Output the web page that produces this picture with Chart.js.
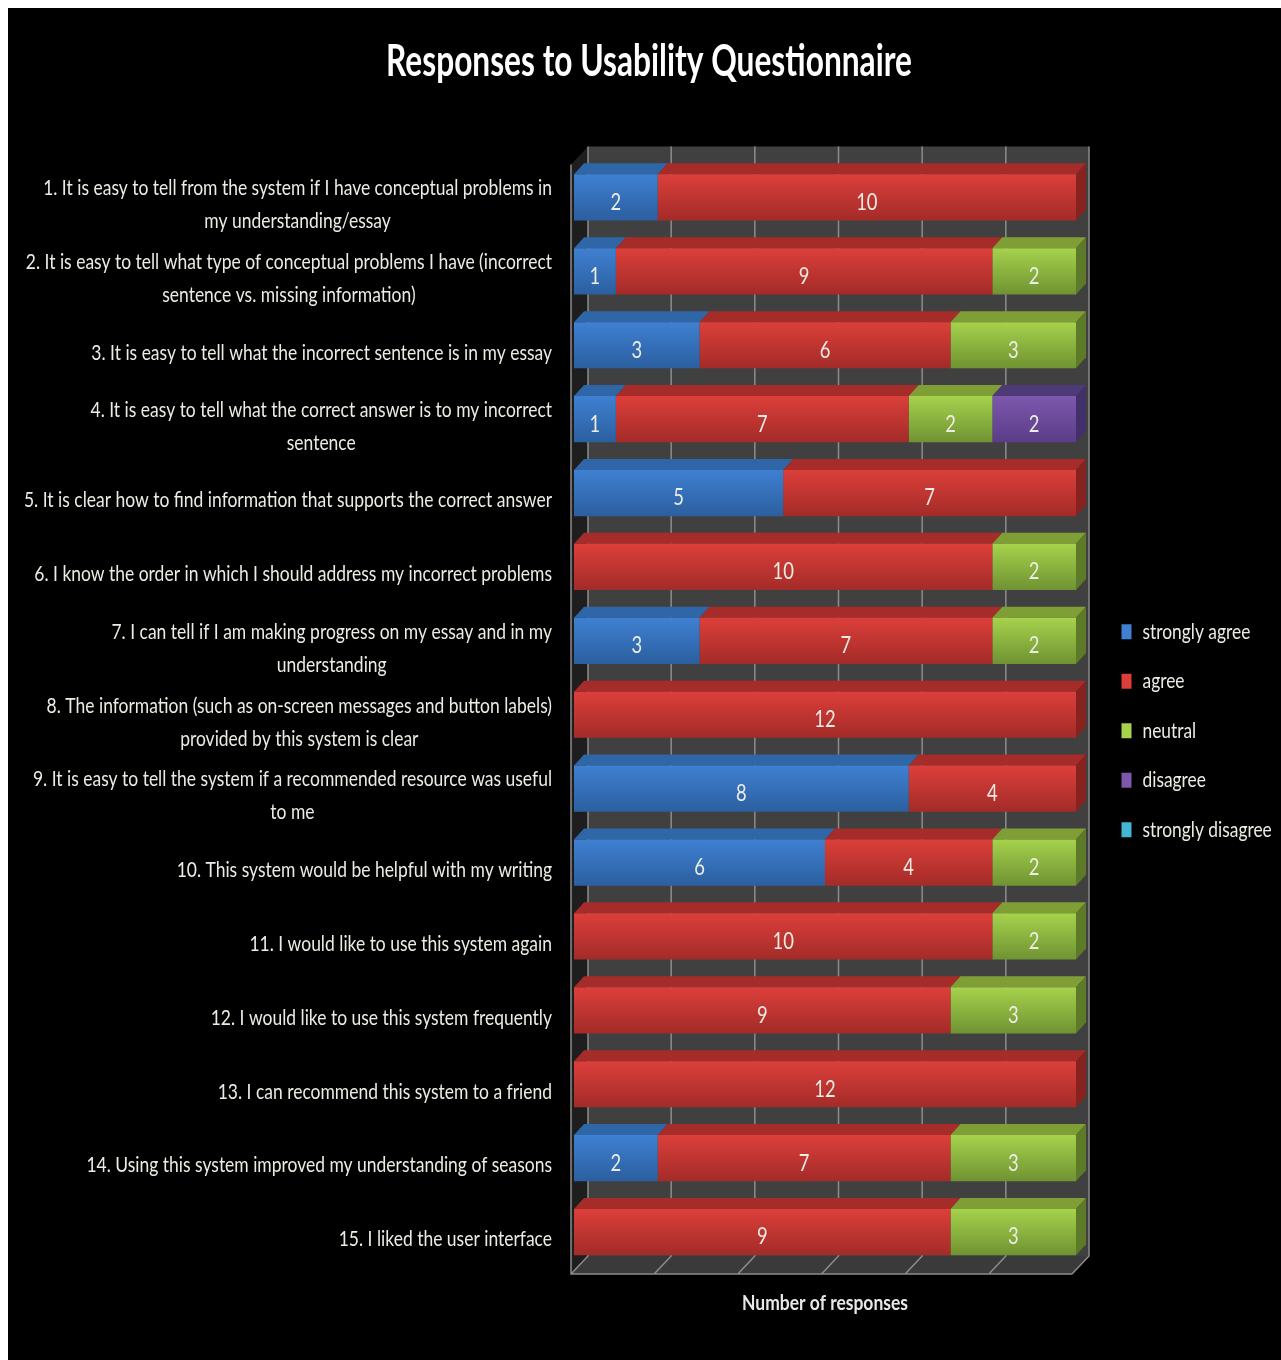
<!DOCTYPE html>
<html><head><meta charset="utf-8">
<style>
html,body{margin:0;padding:0;background:#fff;overflow:hidden;width:1281px;height:1360px}
#c{position:absolute;left:8px;top:8px;background:#000;display:block;filter:blur(0.5px)}
</style>
<script src="https://cdn.jsdelivr.net/npm/chart.js@4/dist/chart.umd.js"></script>
</head><body>
<canvas id="c" width="1273" height="1352"></canvas>
<script>
const questions = [
 ["1. It is easy to tell from the system if I have conceptual problems in","my understanding/essay"],
 ["2. It is easy to tell what type of conceptual problems I have (incorrect","sentence vs. missing information)"],
 "3. It is easy to tell what the incorrect sentence is in my essay",
 ["4. It is easy to tell what the correct answer is to my incorrect","sentence"],
 "5. It is clear how to find information that supports the correct answer",
 "6. I know the order in which I should address my incorrect problems",
 ["7. I can tell if I am making progress on my essay and in my","understanding"],
 ["8. The information (such as on-screen messages and button labels)","provided by this system is clear"],
 ["9. It is easy to tell the system if a recommended resource was useful","to me"],
 "10. This system would be helpful with my writing",
 "11. I would like to use this system again",
 "12. I would like to use this system frequently",
 "13. I can recommend this system to a friend",
 "14. Using this system improved my understanding of seasons",
 "15. I liked the user interface"
];
const stronglyAgree    = [2,1,3,1,5,0,3,0,8,6,0,0,0,2,0];
const agree            = [10,9,6,7,7,10,7,12,4,4,10,9,12,7,9];
const neutral          = [0,2,3,2,0,2,2,0,0,2,2,3,0,3,3];
const disagree         = [0,0,0,2,0,0,0,0,0,0,0,0,0,0,0];
const stronglyDisagree = [0,0,0,0,0,0,0,0,0,0,0,0,0,0,0];
const seriesNames = ["strongly agree","agree","neutral","disagree","strongly disagree"];
const xTickStep = 2;
const xMax = 12;

const FONT = "Lato,'Open Sans',sans-serif";
const TEXT = "#ecece4";
// horizontal squeeze by font size: the original font is a tall, narrow one
const SQUEEZE = {44:0.72,21:0.832,22:0.79,23:0.8};
// [front top, front bottom, top face, side face]
const palette = [
 ["#3f80d2","#2b5f9f","#2f66a8","#24507f"],
 ["#dc3f3a","#a32b28","#a62c29","#87231f"],
 ["#a6d24c","#6f9332","#7f9f36","#5c7a27"],
 ["#7d58ad","#5a3c88","#4f3a78","#42306a"],
 ["#45b6d2","#2d8aa3","#2d8aa3","#23707f"]
];
const BAR_DX = 10, BAR_DY = 11;
const WALL_DX = 17, WALL_DY = 18;
const LEGEND_SHIFT = [18,69];

const canvas = document.getElementById("c");
const c2d = canvas.getContext("2d");
const plainFill = c2d.fillText.bind(c2d);
function squeezedWidth(t){
  const size = parseFloat((c2d.font.match(/([\d.]+)px/)||[])[1]);
  return c2d.measureText(t).width*(SQUEEZE[size]||0.8);
}
c2d.fillText = (t,x,y,m)=>{
  const w = squeezedWidth(t);
  plainFill(t,x,y,m?Math.min(m,w):w);
};

function frontGradient(ctx){
  const chart = ctx.chart, p = palette[ctx.datasetIndex];
  if(!chart.chartArea || !chart.scales.y || ctx.dataIndex===undefined) return p[0];
  const y = chart.scales.y.getPixelForValue(ctx.dataIndex);
  const g = chart.ctx.createLinearGradient(0,y-23,0,y+23);
  g.addColorStop(0,p[0]); g.addColorStop(1,p[1]);
  return g;
}
function poly(c,pts,fill){
  c.beginPath(); pts.forEach((p,i)=>i?c.lineTo(p[0],p[1]):c.moveTo(p[0],p[1])); c.closePath();
  c.fillStyle=fill; c.fill();
}
const threeD = {
 id:"threeD",
 afterLayout(chart){
  // centre each wrapped line of a tick label on its own, as the original does
  const y = chart.scales.y, c = chart.ctx;
  const items = y.getLabelItems();
  const out = [];
  c.save();
  for(const it of items){
    const tr = it.options.translation;
    const lines = Array.isArray(it.label)?it.label:[it.label];
    c.font = it.font.string;
    const w = lines.map(squeezedWidth), m = Math.max(...w);
    lines.forEach((l,i)=>{
      const yy = tr[1]+7.5+(i-(lines.length-1)/2)*33;
      out.push({...it,label:l,textOffset:0,options:{...it.options,textBaseline:"middle",translation:[tr[0]-(m-w[i])/2,yy]}});
    });
  }
  c.restore();
  y._labelItems = out;
  // legend sits lower and further right than the layout engine would put it
  const lg = chart.legend, dx = LEGEND_SHIFT[0], dy = LEGEND_SHIFT[1];
  lg.left+=dx; lg.right+=dx; lg.top+=dy; lg.bottom+=dy;
  (lg.legendHitBoxes||[]).forEach(b=>{b.left+=dx;b.top+=dy;});
 },
 beforeDatasetsDraw(chart){
  const c = chart.ctx, a = chart.chartArea, x = chart.scales.x;
  const fl = x.left-3, fr = x.right-4;           // front plane
  const ft = a.top+4, fb = a.bottom+5;
  c.save();
  poly(c,[[fl+WALL_DX,ft-WALL_DY],[fr+WALL_DX,ft-WALL_DY],[fr+WALL_DX,fb-WALL_DY],[fl+WALL_DX,fb-WALL_DY]],"#404040");
  poly(c,[[fl,ft],[fl+WALL_DX,ft-WALL_DY],[fl+WALL_DX,fb-WALL_DY],[fl,fb]],"#1e1e1e");
  poly(c,[[fl,fb],[fl+WALL_DX,fb-WALL_DY],[fr+WALL_DX,fb-WALL_DY],[fr,fb]],"#3a3a3a");
  c.lineWidth=1.5; c.strokeStyle="#8c8c8c";
  c.beginPath();
  for(const t of x.ticks){
    const px = x.getPixelForValue(t.value)+(t.value===xMax?-4:t.value===0?-3:-3.5);
    c.moveTo(px+WALL_DX,ft-WALL_DY); c.lineTo(px+WALL_DX,fb-WALL_DY); c.lineTo(px,fb);
  }
  c.moveTo(fl,ft); c.lineTo(fl,fb); c.lineTo(fr,fb);
  c.stroke();
  // top and side faces of the stacked bars
  chart.data.datasets.forEach((ds,di)=>{
    const els = chart.getDatasetMeta(di).data;
    els.forEach((el,i)=>{
      if(!ds.data[i]) return;
      const h = el.height/2, l = el.base, r = el.x;
      poly(c,[[l,el.y-h],[l+BAR_DX,el.y-h-BAR_DY],[r+BAR_DX,el.y-h-BAR_DY],[r,el.y-h]],palette[di][2]);
    });
  });
  chart.data.datasets.forEach((ds,di)=>{
    const els = chart.getDatasetMeta(di).data;
    els.forEach((el,i)=>{
      if(!ds.data[i]) return;
      const last = chart.data.datasets.slice(di+1).every(d=>!d.data[i]);
      if(!last) return;
      const h = el.height/2, r = el.x;
      poly(c,[[r,el.y-h],[r+BAR_DX,el.y-h-BAR_DY],[r+BAR_DX,el.y+h-BAR_DY],[r,el.y+h]],palette[di][3]);
    });
  });
  c.restore();
 },
 afterDatasetsDraw(chart){
  const c = chart.ctx;
  c.save();
  c.font = "23px "+FONT; c.fillStyle=TEXT; c.textAlign="center"; c.textBaseline="middle";
  chart.data.datasets.forEach((ds,di)=>{
    chart.getDatasetMeta(di).data.forEach((el,i)=>{
      if(ds.data[i]) c.fillText(String(ds.data[i]),(el.x+el.base)/2,el.y+5);
    });
  });
  c.restore();
 }
};
const allSeries = [stronglyAgree,agree,neutral,disagree,stronglyDisagree];
new Chart(canvas,{
 type:"bar",
 data:{labels:questions,datasets:seriesNames.map((n,i)=>({
   label:n,data:allSeries[i],backgroundColor:frontGradient,borderWidth:0,
   categoryPercentage:1,barPercentage:0.625}))},
 plugins:[threeD],
 options:{
  indexAxis:"y",responsive:false,animation:false,
  layout:{padding:{left:9,right:0,top:0,bottom:44.4}},
  plugins:{
   tooltip:{enabled:false},
   title:{display:true,text:"Responses to Usability Questionnaire",color:"#fff",
     font:{family:FONT,size:44,weight:"bold"},padding:{top:27.6,bottom:72.1}},
   legend:{position:"right",align:"center",maxWidth:205,
     labels:{color:TEXT,font:{family:FONT,size:22},boxWidth:10,boxHeight:15,padding:27.5,
       generateLabels:()=>seriesNames.map((n,i)=>({text:n,fillStyle:palette[i][0],strokeStyle:palette[i][1],lineWidth:0,fontColor:TEXT,datasetIndex:i}))}}
  },
  scales:{
   x:{stacked:true,min:0,max:xMax,ticks:{display:false,stepSize:xTickStep},
      grid:{display:false},border:{display:false},
      title:{display:true,text:"Number of responses",color:"#e8e8e8",font:{family:FONT,size:21,weight:"bold"},padding:{top:13.4,bottom:0}}},
   y:{stacked:true,grid:{display:false,drawTicks:false},border:{display:false},
      afterFit(s){s.width=557;},
      ticks:{color:TEXT,padding:22,autoSkip:false,font:{family:FONT,size:21}}}
  }
 }
});
</script>
</body></html>
